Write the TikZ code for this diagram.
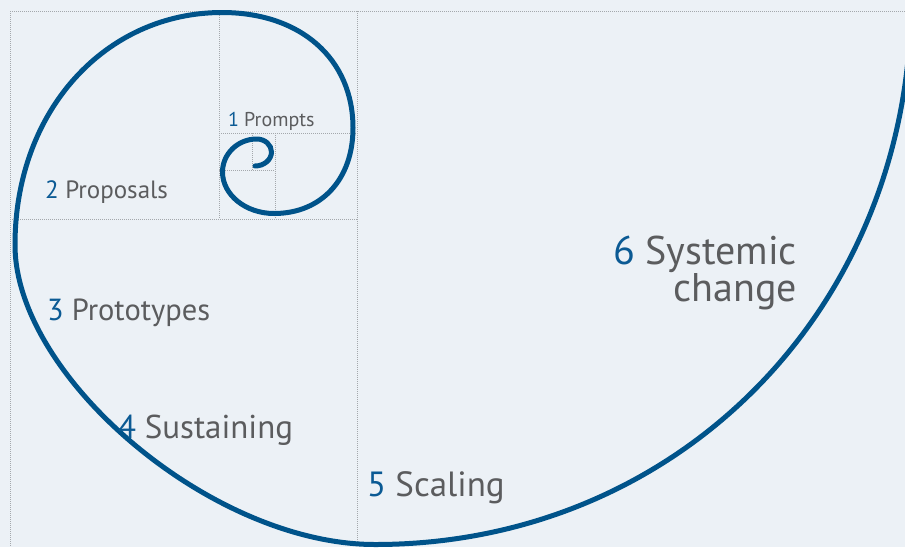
\documentclass[tikz,border=0pt]{standalone}
\usepackage{fontspec}
\setmainfont{PT Sans}
\definecolor{bgc}{HTML}{ECF1F6}
\definecolor{spiralc}{HTML}{00538A}
\definecolor{numc}{HTML}{0B5A94}
\definecolor{txtc}{HTML}{5B5C5E}
\definecolor{gridc}{HTML}{A4A8AC}
\tikzset{
  gridline/.style={gridc, line width=0.9pt, dash pattern=on 1pt off 1pt},
  spiralline/.style={spiralc, line width=5pt, line cap=round},
  lbl/.style={inner sep=0pt, outer sep=0pt, text=txtc, anchor=base west},
}
\newcommand{\nm}[1]{\textcolor{numc}{#1}}
\begin{document}
\begin{tikzpicture}[x=1pt,y=-1pt]
\useasboundingbox (0,0) rectangle (905,547);
\fill[bgc] (0,0) rectangle (905,547);
% golden rectangles
\draw[gridline] (10,11) -- (905,11);
\draw[gridline] (10,11) -- (10,547);
\draw[gridline] (219,11) -- (219,219);
\draw[gridline] (357,11) -- (357,547);
\draw[gridline] (10,219) -- (357,219);
\draw[gridline] (219,133) -- (357,133);
\draw[gridline] (275,133) -- (275,219);
\draw[gridline] (219,170) -- (275,170);
\draw[gridline] (252,133) -- (252,170);
% spiral
\draw[spiralline] (255,166)
  .. controls (264,166) and (271.5,159.7) .. (271.5,152)
  .. controls (271.5,144.8) and (264.9,139) .. (256.7,139)
  .. controls (237.9,139) and (222.5,153.8) .. (222.5,172)
  .. controls (222.5,194.8) and (245.7,213.5) .. (274,213.5)
  .. controls (321.4,213.5) and (353,179.3) .. (353,128)
  .. controls (353,58.7) and (300.6,12.5) .. (222,12.5)
  .. controls (106,12.5) and (15,110) .. (15,245)
  .. controls (15,376) and (211,544.5) .. (375,544.5)
  .. controls (678,544.5) and (911,307.6) .. (911,0);
% labels
\node[lbl, font=\fontsize{20}{24}\selectfont] (l1) at (228,126) {\nm{1} Prompts};
\node[lbl, font=\fontsize{25}{30}\selectfont] (l2) at (45,198) {\nm{2} Proposals};
\node[lbl, font=\fontsize{30.5}{36}\selectfont] (l3) at (47,320.5) {\nm{3} Prototypes};
\node[lbl, font=\fontsize{33}{40}\selectfont] (l4) at (118,438) {\nm{4} Sustaining};
\node[lbl, font=\fontsize{35}{42}\selectfont] (l5) at (367,496.5) {\nm{5} Scaling};
\node[lbl, anchor=base east, align=right, font=\fontsize{40}{36.7}\selectfont] (l6) at (797,301.5) {\nm{6} Systemic\\change};
\end{tikzpicture}
\end{document}
